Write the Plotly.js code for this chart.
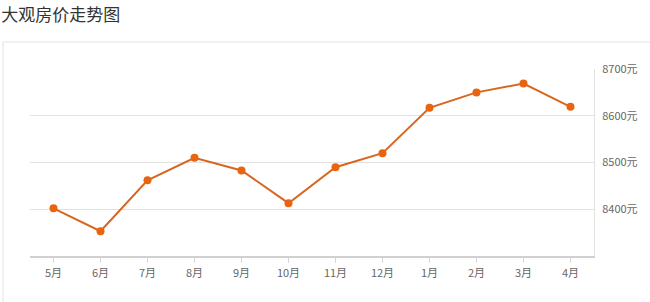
<!DOCTYPE html>
<html>
<head>
<meta charset="utf-8">
<script src="https://cdn.plot.ly/plotly-3.0.1.min.js"></script>
<style>html,body{margin:0;padding:0;background:#fff;}</style>
</head>
<body>
<div id="chart" style="width:650px;height:302px;"></div>
<script>
var chartTitle = "大观房价走势图";
var months = ["5月","6月","7月","8月","9月","10月","11月","12月","1月","2月","3月","4月"];
var prices = [8402, 8353, 8462, 8510, 8483, 8413, 8490, 8520, 8617, 8650, 8669, 8619];
var yTicks = [8400, 8500, 8600, 8700];
var yTickLabels = ["8400元","8500元","8600元","8700元"];

var W = 650, H = 302, L = 30, R = 56, T = 69, B = 46;
var pw = W - L - R, ph = H - T - B;
function px(x){ return (x - L) / pw; }
function py(y){ return (H - B - y) / ph; }

var trace = {
  x: months, y: prices, type: "scatter", mode: "lines+markers",
  line: {color: "#d9661f", width: 2},
  marker: {color: "#e8640f", size: 8},
  hoverinfo: "x+y"
};

var layout = {
  width: W, height: H,
  margin: {l: L, r: R, t: T, b: B, pad: 0},
  paper_bgcolor: "#fff", plot_bgcolor: "#fff",
  showlegend: false,
  font: {family: "Noto Sans CJK SC, sans-serif", color: "#666", size: 11},
  title: {text: chartTitle, x: 0.002, xanchor: "left", y: 1 - 15/H, yanchor: "middle",
          font: {size: 17, color: "#333", family: "Noto Sans CJK SC, sans-serif"}},
  xaxis: {
    type: "category", range: [-0.5, 11.5], fixedrange: true,
    showgrid: false, zeroline: false,
    showline: true, linecolor: "#d0d0d0", linewidth: 1.5,
    ticks: "outside", ticklen: 5, tickcolor: "#d8d8d8", tickwidth: 1,
    tickfont: {size: 11, color: "#666"}, ticklabelstandoff: 1
  },
  yaxis: {
    side: "right", range: [8300, 8700], fixedrange: true,
    tickvals: yTicks, ticktext: yTickLabels,
    showgrid: true, gridcolor: "#e2e2e2", gridwidth: 1,
    zeroline: false, showline: true, linecolor: "#e2e2e2", linewidth: 1,
    ticks: "", tickfont: {size: 11, color: "#666"}, ticklabelstandoff: 5
  },
  shapes: [
    {type: "rect", xref: "paper", yref: "paper", layer: "below",
     x0: px(3), x1: px(670), y0: py(320), y1: py(42),
     line: {color: "#e3e3e3", width: 1}, fillcolor: "rgba(0,0,0,0)"}
  ]
};

Plotly.newPlot("chart", [trace], layout, {displayModeBar: false, staticPlot: true});
</script>
</body>
</html>
